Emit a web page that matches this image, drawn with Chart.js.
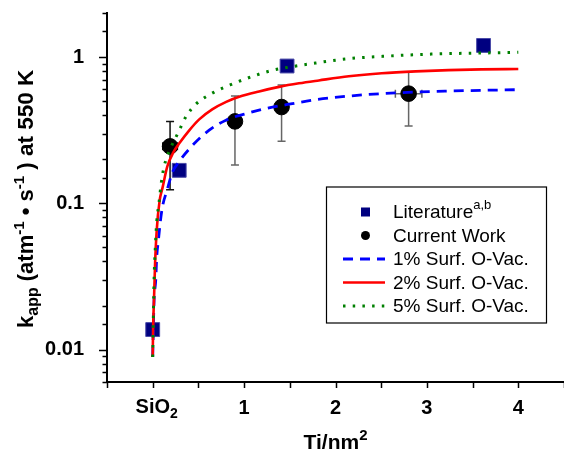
<!DOCTYPE html>
<html>
<head>
<meta charset="utf-8">
<script src="https://cdn.jsdelivr.net/npm/chart.js@4.4.1/dist/chart.umd.min.js"></script>
<style>
  html, body { margin: 0; padding: 0; background: #fff; }
  #wrap { width: 564px; height: 452px; }
</style>
</head>
<body>
<div id="wrap"><canvas id="chart" width="564" height="452"></canvas></div>
<script>
'use strict';

// Literature points (squares)
const litX = [0, 0.29, 1.47, 3.62];
const litY = [0.0137, 0.168, 0.868, 1.20];

// Current work (circles) with error bars
const curX = [0.19, 0.90, 1.41, 2.80];
const curY = [0.245, 0.363, 0.455, 0.562];
const curYHigh = [0.363, 0.541, 0.643, 0.794];
const curYLow = [0.124, 0.183, 0.266, 0.337];
const curXErr = [0.08, 0, 0, 0.145];

// model curves
const vac1X = [0, 0.015, 0.033, 0.044, 0.062, 0.081, 0.106, 0.160, 0.215, 0.291, 0.436, 0.618, 0.801, 1.019, 1.237, 1.527, 1.782, 2.146, 2.509, 2.873, 3.237, 3.6, 4.0];
const vac1Y = [0.0089, 0.0217, 0.0297, 0.0429, 0.0557, 0.0725, 0.0942, 0.1245, 0.1626, 0.1935, 0.249, 0.316, 0.370, 0.410, 0.444, 0.480, 0.511, 0.541, 0.562, 0.576, 0.585, 0.592, 0.598];

const vac2X = [0, 0.004, 0.015, 0.026, 0.044, 0.076, 0.106, 0.160, 0.226, 0.291, 0.400, 0.509, 0.651, 0.804, 0.946, 1.164, 1.382, 1.600, 1.818, 2.146, 2.506, 2.877, 3.237, 3.597, 4.0];
const vac2Y = [0.0089, 0.0135, 0.0228, 0.0386, 0.0653, 0.1047, 0.1265, 0.1788, 0.223, 0.257, 0.3155, 0.375, 0.439, 0.494, 0.535, 0.582, 0.625, 0.661, 0.692, 0.738, 0.774, 0.798, 0.814, 0.823, 0.828];

const vac5X = [0, 0.015, 0.029, 0.044, 0.070, 0.095, 0.128, 0.199, 0.280, 0.366, 0.471, 0.673, 0.891, 1.109, 1.309, 1.418, 1.782, 2.146, 2.582, 2.877, 3.237, 3.597, 4.0];
const vac5Y = [0.0089, 0.0297, 0.0501, 0.0743, 0.102, 0.1396, 0.1817, 0.241, 0.305, 0.393, 0.475, 0.576, 0.661, 0.744, 0.811, 0.837, 0.910, 0.975, 1.016, 1.038, 1.055, 1.065, 1.078];

const seriesNames = ['Literature', 'Current Work', '1% Surf. O-Vac.', '2% Surf. O-Vac.', '5% Surf. O-Vac.'];

const xTickValues = [0, 1, 2, 3, 4];
const xTickLabels = ['SiO2', '1', '2', '3', '4'];
const yTickValues = [0.01, 0.1, 1];
const yTickLabels = ['0.01', '0.1', '1'];

const FONT = "Arial, 'Liberation Sans', Helvetica, sans-serif";

const toPts = (xs, ys) => xs.map((x, i) => ({ x: x, y: ys[i] }));

// draws text made of pieces (size, vertical shift) from left to right
function richText(ctx, parts, x, y, bold) {
  let cx = x;
  parts.forEach((p) => {
    ctx.font = (bold ? 'bold ' : '') + p.size + 'px ' + FONT;
    ctx.fillText(p.t, cx, y + (p.dy || 0));
    cx += ctx.measureText(p.t).width;
  });
  return cx - x;
}
function richWidth(ctx, parts, bold) {
  let w = 0;
  parts.forEach((p) => {
    ctx.font = (bold ? 'bold ' : '') + p.size + 'px ' + FONT;
    w += ctx.measureText(p.t).width;
  });
  return w;
}

const isMajor = (v) => Math.abs(Math.log10(v) - Math.round(Math.log10(v))) < 1e-6;

const extras = {
  id: 'extras',
  beforeDatasetsDraw(chart) {
    const ctx = chart.ctx;
    const xs = chart.scales.x, ys = chart.scales.y;
    ctx.save();
    ctx.lineWidth = 1.5;
    for (let i = 0; i < curX.length; i++) {
      ctx.strokeStyle = i === 0 ? '#111' : '#666';
      const px = xs.getPixelForValue(curX[i]);
      const pyH = ys.getPixelForValue(curYHigh[i]);
      const pyL = ys.getPixelForValue(curYLow[i]);
      const py = ys.getPixelForValue(curY[i]);
      ctx.beginPath();
      ctx.moveTo(px, pyH); ctx.lineTo(px, pyL);
      ctx.moveTo(px - 4, pyH); ctx.lineTo(px + 4, pyH);
      ctx.moveTo(px - 4, pyL); ctx.lineTo(px + 4, pyL);
      if (curXErr[i] > 0) {
        const a = xs.getPixelForValue(curX[i] - curXErr[i]);
        const b = xs.getPixelForValue(curX[i] + curXErr[i]);
        ctx.moveTo(a, py); ctx.lineTo(b, py);
        ctx.moveTo(a, py - 4); ctx.lineTo(a, py + 4);
        ctx.moveTo(b, py - 4); ctx.lineTo(b, py + 4);
      }
      ctx.stroke();
    }
    ctx.restore();
  },
  afterDraw(chart) {
    const ctx = chart.ctx;
    const xs = chart.scales.x, ys = chart.scales.y;
    const area = chart.chartArea;
    ctx.save();
    ctx.fillStyle = '#000';
    ctx.strokeStyle = '#000';
    ctx.lineWidth = 1.5;

    // tick marks
    ctx.beginPath();
    ys.ticks.forEach((t) => {
      const py = Math.round(ys.getPixelForValue(t.value)) + 0.5;
      const len = isMajor(t.value) ? 8 : 4.5;
      ctx.moveTo(area.left, py); ctx.lineTo(area.left - len, py);
    });
    xs.ticks.forEach((t) => {
      const px = Math.round(xs.getPixelForValue(t.value)) + 0.5;
      ctx.moveTo(px, area.bottom); ctx.lineTo(px, area.bottom + 6);
    });
    ctx.stroke();

    // SiO2 tick label with subscript
    ctx.textBaseline = 'alphabetic';
    const sio = [{ t: 'SiO', size: 20 }, { t: '2', size: 14, dy: 5 }];
    const w0 = richWidth(ctx, sio, true);
    richText(ctx, sio, xs.getPixelForValue(xTickValues[0]) - w0 / 2 + 4, area.bottom + 31, true);

    // x title
    const xt = [{ t: 'Ti/nm', size: 21 }, { t: '2', size: 15, dy: -9 }];
    const wx = richWidth(ctx, xt, true);
    richText(ctx, xt, xs.getPixelForValue(2) - wx / 2, 449, true);

    // y title
    ctx.save();
    ctx.translate(33, 328);
    ctx.rotate(-Math.PI / 2);
    richText(ctx, [
      { t: 'k', size: 22 }, { t: 'app', size: 16, dy: 5 },
      { t: ' (atm', size: 22 }, { t: '-1', size: 15, dy: -9 },
      { t: ' \u2022 s', size: 22 }, { t: '-1', size: 15, dy: -9 },
      { t: ' ) at 550 K', size: 22.5 }
    ], 0, 0, true);
    ctx.restore();

    // legend
    ctx.lineWidth = 1.2;
    ctx.strokeRect(326.5, 187, 220, 136);
    const rows = [212, 235.5, 259, 282.5, 306];
    ctx.textBaseline = 'middle';
    rows.forEach((ry, i) => {
      ctx.save();
      if (i === 0) {
        ctx.fillStyle = '#000080';
        ctx.fillRect(361, ry - 4.5, 9, 9);
      } else if (i === 1) {
        ctx.beginPath();
        ctx.arc(365.5, ry, 4.5, 0, Math.PI * 2);
        ctx.fill();
      } else {
        const ds = chart.data.datasets[4 - i];
        ctx.strokeStyle = ds.borderColor;
        ctx.lineWidth = ds.borderWidth;
        ctx.setLineDash(ds.borderDash || []);
        ctx.beginPath();
        ctx.moveTo(343, ry); ctx.lineTo(385, ry);
        ctx.stroke();
      }
      ctx.restore();
      ctx.fillStyle = '#000';
      if (i === 0) {
        richText(ctx, [{ t: seriesNames[0], size: 19 }, { t: 'a,b', size: 13, dy: -8 }], 393, ry + 1, false);
      } else {
        ctx.font = '19px ' + FONT;
        ctx.fillText(seriesNames[i], 393, ry + 1);
      }
    });
    ctx.restore();
  }
};

const ctx = document.getElementById('chart');
new Chart(ctx, {
  type: 'scatter',
  data: {
    datasets: [
      {
        label: seriesNames[4], data: toPts(vac5X, vac5Y), showLine: true,
        borderColor: '#008000', borderWidth: 3, borderDash: [2.5, 7.2],
        pointRadius: 0, cubicInterpolationMode: 'monotone', fill: false
      },
      {
        label: seriesNames[3], data: toPts(vac2X, vac2Y), showLine: true,
        borderColor: '#ff0000', borderWidth: 2.6,
        pointRadius: 0, cubicInterpolationMode: 'monotone', fill: false
      },
      {
        label: seriesNames[2], data: toPts(vac1X, vac1Y), showLine: true,
        borderColor: '#0000ff', borderWidth: 2.8, borderDash: [10, 7],
        pointRadius: 0, cubicInterpolationMode: 'monotone', fill: false
      },
      {
        label: seriesNames[1], data: toPts(curX, curY),
        pointStyle: 'circle', pointRadius: 7.8,
        backgroundColor: '#000', borderColor: '#000', borderWidth: 1
      },
      {
        label: seriesNames[0], data: toPts(litX, litY),
        pointStyle: 'rect', pointRadius: 9.8,
        backgroundColor: '#000080', borderColor: '#4a4aa8', borderWidth: 1
      }
    ]
  },
  options: {
    responsive: false,
    animation: false,
    layout: { autoPadding: false, padding: { left: 0, top: 13, right: -4, bottom: 0 } },
    plugins: { legend: { display: false }, tooltip: { enabled: false } },
    scales: {
      x: {
        type: 'linear', min: -0.5, max: 4.5,
        afterFit: (s) => { s.height = 70; s.paddingLeft = 0; s.paddingRight = 0; },
        grid: { display: false },
        border: { display: true, color: '#000', width: 2 },
        ticks: {
          stepSize: 0.5, autoSkip: false, maxRotation: 0, padding: 6,
          color: '#000', font: { family: FONT, size: 20, weight: 'bold' },
          callback: (v) => {
            const i = xTickValues.indexOf(v);
            return i > 0 ? xTickLabels[i] : '';
          }
        }
      },
      y: {
        type: 'logarithmic', min: 0.006, max: 2,
        afterFit: (s) => { s.width = 107; s.paddingTop = 0; s.paddingBottom = 0; },
        grid: { display: false },
        border: { display: true, color: '#000', width: 2 },
        ticks: {
          autoSkip: false, padding: 15,
          color: '#000', font: { family: FONT, size: 20, weight: 'bold' },
          callback: (v) => {
            const i = yTickValues.findIndex((t) => Math.abs(t - v) / t < 1e-6);
            return i >= 0 ? yTickLabels[i] : '';
          }
        }
      }
    }
  },
  plugins: [extras]
});
</script>
</body>
</html>
